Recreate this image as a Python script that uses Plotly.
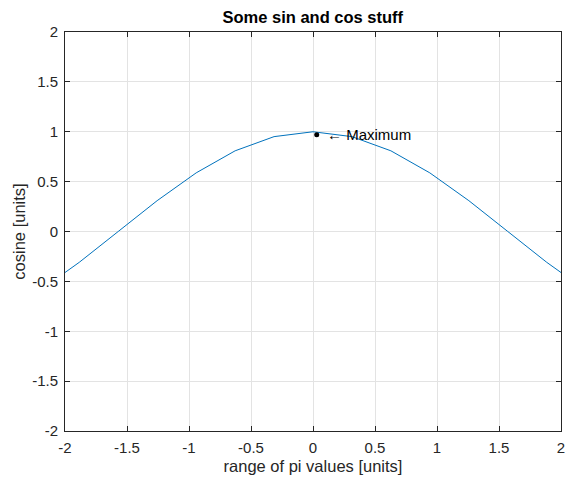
import plotly.graph_objects as go

x_vals = [-2.199, -1.885, -1.571, -1.257, -0.942, -0.628, -0.314, 0.0,
          0.314, 0.628, 0.942, 1.257, 1.571, 1.885, 2.199]
y_vals = [-0.588, -0.309, 0.0, 0.309, 0.588, 0.809, 0.951, 1.0,
          0.951, 0.809, 0.588, 0.309, 0.0, -0.309, -0.588]
max_x = [0.03]
max_y = [0.97]
tick_vals = [-2, -1.5, -1, -0.5, 0, 0.5, 1, 1.5, 2]
tick_text = ["-2", "-1.5", "-1", "-0.5", "0", "0.5", "1", "1.5", "2"]

FONT = "Liberation Sans, Arial, Helvetica"
# the page body has an 8px margin, so the figure is drawn 8px right/down,
# and only the body's content box (8..565 px) is visible horizontally
OFF = 8
W, H = 573 - 2 * OFF, 483 - 2 * OFF
L, R, T = 64.5 - OFF, 4, 31.5 - OFF
B = H - (431.5 - OFF)

fig = go.Figure()
fig.add_trace(go.Scatter(x=x_vals, y=y_vals, mode="lines",
                         line=dict(color="#0072BD", width=1), showlegend=False))
fig.add_trace(go.Scatter(x=max_x, y=max_y, mode="markers",
                         marker=dict(color="black", size=5), showlegend=False))
fig.add_annotation(x=0.1, y=0.97, text="\u2190 Maximum", showarrow=False,
                   xanchor="left", yanchor="middle",
                   font=dict(family=FONT, size=15, color="black"))

axis_common = dict(
    showline=True, linecolor="#262626", linewidth=1, mirror="ticks",
    ticks="inside", ticklen=5, tickcolor="#262626", tickwidth=1,
    showgrid=True, gridcolor="#e3e3e3", gridwidth=1, zeroline=False,
    tickfont=dict(family=FONT, size=15, color="#262626"),
    tickvals=tick_vals, ticktext=tick_text, automargin=False,
    ticklabeloverflow="allow", range=[-2, 2],
)

fig.update_layout(
    width=W, height=H,
    margin=dict(l=L, r=R, t=T, b=B, autoexpand=False),
    paper_bgcolor="white", plot_bgcolor="white",
    title=dict(text="<b>Some sin and cos stuff</b>",
               x=(L + (W - R)) / 2 / W, xanchor="center",
               y=1 - (17 - OFF) / H, yanchor="middle",
               font=dict(family=FONT, size=16.5, color="black")),
    xaxis=dict(title=dict(text="range of pi values [units]", standoff=5,
               font=dict(family=FONT, size=16.5, color="#262626")),
               ticklabelstandoff=3, **axis_common),
    yaxis=dict(title=dict(text="cosine [units]", standoff=2,
               font=dict(family=FONT, size=16.5, color="#262626")),
               ticklabelstandoff=3, **axis_common),
)
fig.write_html("out.html")
